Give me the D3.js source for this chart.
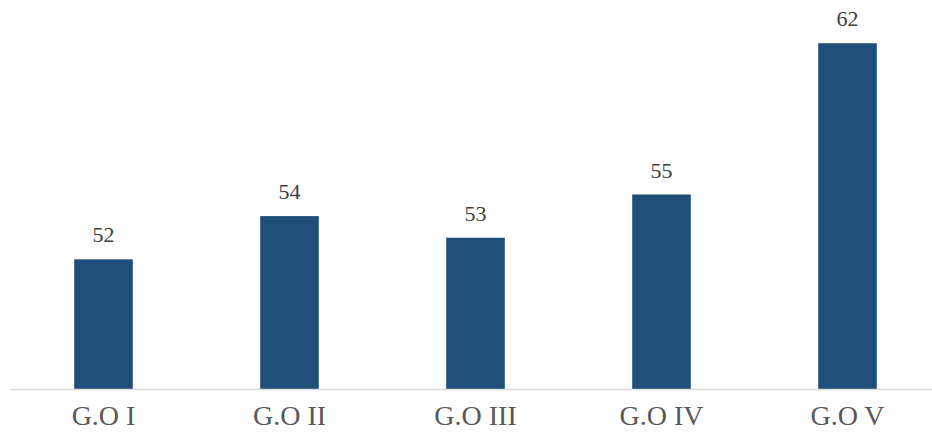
<!DOCTYPE html>
<meta charset="utf-8">
<style>
body {
    margin: 0;
    background: #fff;
    font-family: "Liberation Serif", "Times New Roman", serif;
}
.bar {
    fill: #1f4e79;
}
.value {
    font-family: "Liberation Serif", "Times New Roman", serif;
    font-size: 22px;
    fill: #404040;
    text-anchor: middle;
}
.x-axis text {
    font-family: "Liberation Serif", "Times New Roman", serif;
    font-size: 28px;
    fill: #595959;
}
.x-axis .domain {
    stroke: #d9d9d9;
    stroke-width: 1.5px;
}
</style>
<body>
<script src="https://d3js.org/d3.v7.min.js"></script>
<script>
var categories = ["G.O I", "G.O II", "G.O III", "G.O IV", "G.O V"];
var values = [52, 54, 53, 55, 62];

var width = 932,
    height = 438;
var baseline = 389;

var svg = d3.select("body").append("svg")
    .attr("width", width)
    .attr("height", height);

var x = d3.scaleBand()
    .domain(categories)
    .range([10.5, 940.5])
    .paddingInner(0.685)
    .paddingOuter(0.3425);

var y = d3.scaleLinear()
    .domain([46, 64])
    .range([baseline, 0]);

svg.append("g")
    .selectAll("rect")
    .data(values)
    .enter()
    .append("rect")
    .attr("class", "bar")
    .attr("x", function(d, i) { return x(categories[i]); })
    .attr("width", x.bandwidth())
    .attr("y", function(d) { return y(d); })
    .attr("height", function(d) { return baseline - y(d); });

svg.append("g")
    .selectAll("text")
    .data(values)
    .enter()
    .append("text")
    .attr("class", "value")
    .attr("x", function(d, i) { return x(categories[i]) + x.bandwidth() / 2; })
    .attr("y", function(d) { return y(d) - 17; })
    .text(function(d) { return d; });

// category axis along the bottom, no ticks
var axis = svg.append("g")
    .attr("class", "x-axis")
    .attr("transform", "translate(0," + (baseline + 0.5) + ")")
    .call(d3.axisBottom(x).tickSize(0).tickPadding(16));
axis.select(".domain").attr("d", "M10,0H932");
axis.selectAll("text").attr("dy", "0.71em");
</script>
